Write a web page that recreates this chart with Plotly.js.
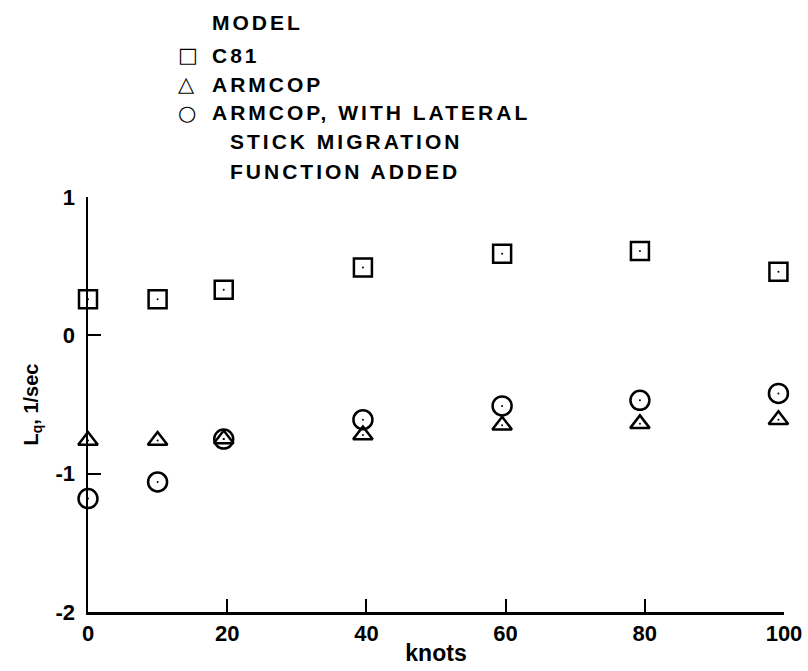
<!DOCTYPE html>
<html>
<head>
<meta charset="utf-8">
<script src="https://cdn.plot.ly/plotly-3.0.1.min.js"></script>
<style>
  html, body { margin: 0; padding: 0; background: #ffffff; }
  #chart { width: 808px; height: 671px; }
  #chart .annotation-text { letter-spacing: 3px; }
</style>
</head>
<body>
<div id="chart"></div>
<script>
// ---- data ----
const knots = [0, 10, 19.5, 39.5, 59.5, 79.3, 99.2];
const lqC81 = [0.26, 0.26, 0.33, 0.49, 0.59, 0.61, 0.46];
const lqArmcop = [-0.76, -0.76, -0.75, -0.72, -0.65, -0.64, -0.61];
const lqArmcopMigration = [-1.18, -1.06, -0.75, -0.61, -0.51, -0.47, -0.42];

const xTickVals = [0, 20, 40, 60, 80, 100];
const xTickText = ['0', '20', '40', '60', '80', '100'];
const yTickVals = [-2, -1, 0, 1];
const yTickText = ['-2', '-1', '0', '1'];

const legendTitle = 'MODEL';
const seriesNames = ['C81', 'ARMCOP', 'ARMCOP, WITH LATERAL'];
const seriesNameExtra = ['STICK MIGRATION', 'FUNCTION ADDED'];
const legendGlyphs = ['\u25A1', '\u25B3', '\u25CB'];

const FONT = 'Liberation Sans, Arial, Helvetica, sans-serif';

function markerTrace(y, symbol, size, name) {
  return {
    x: knots, y: y, name: name, type: 'scatter', mode: 'markers',
    cliponaxis: false, showlegend: false,
    marker: { symbol: symbol, size: size, color: '#000000', line: { color: '#000000', width: 2.5 } }
  };
}
function dotTrace(y) {
  return {
    x: knots, y: y, type: 'scatter', mode: 'markers', cliponaxis: false,
    showlegend: false, hoverinfo: 'skip',
    marker: { symbol: 'circle', size: 2, color: '#000000' }
  };
}

const traces = [
  markerTrace(lqC81, 'square-open', 18, seriesNames[0]),
  markerTrace(lqArmcop, 'triangle-up-open', 17, seriesNames[1]),
  markerTrace(lqArmcopMigration, 'circle-open', 19, seriesNames[2]),
  dotTrace(lqC81), dotTrace(lqArmcop), dotTrace(lqArmcopMigration)
];

// pixel helpers for the legend annotations (plot area: x 88..784, y 197..612)
const L = 88, R = 784, T = 197, B = 612;
const px = v => (v - L) / (R - L);
const py = v => (B - v) / (B - T);

const legendFont = { family: FONT, size: 21, weight: 'bold', color: '#000000' };
const annotations = [];
function legendText(x, y, text) {
  annotations.push({ xref: 'paper', yref: 'paper', x: px(x), y: py(y), xanchor: 'left', yanchor: 'middle', align: 'left', borderpad: 0, showarrow: false, text: text, font: legendFont });
}
legendText(211, 22, legendTitle);
const rowsY = [55, 84, 113];
for (let i = 0; i < 3; i++) {
  annotations.push({ xref: 'paper', yref: 'paper', x: px(177), y: py(rowsY[i]), xanchor: 'left', yanchor: 'middle', align: 'left', borderpad: 0, showarrow: false, text: legendGlyphs[i], font: { family: 'DejaVu Sans, sans-serif', size: 21, color: '#000000' } });
  legendText(211, rowsY[i], seriesNames[i]);
}
legendText(229, 142, seriesNameExtra[0]);
legendText(229, 171, seriesNameExtra[1]);

const layout = {
  width: 808, height: 671,
  paper_bgcolor: '#ffffff', plot_bgcolor: '#ffffff',
  margin: { l: L, r: 808 - R, t: T, b: 671 - B, pad: 0 },
  showlegend: false,
  font: { family: FONT, color: '#000000' },
  xaxis: {
    range: [0, 100], tickvals: xTickVals, ticktext: xTickText,
    showgrid: false, zeroline: false, showline: true, linecolor: '#000000', linewidth: 2.5,
    ticks: 'inside', ticklen: 13, tickwidth: 2, tickcolor: '#000000',
    tickfont: { family: FONT, size: 22, weight: 'bold', color: '#000000' },
    title: { text: 'knots', font: { family: FONT, size: 23, weight: 'bold', color: '#000000' }, standoff: 0 }
  },
  yaxis: {
    range: [-2, 1], tickvals: yTickVals, ticktext: yTickText,
    showgrid: false, zeroline: false, showline: true, linecolor: '#000000', linewidth: 2.5,
    ticks: 'inside', ticklen: 13, tickwidth: 2, tickcolor: '#000000',
    ticklabelstandoff: 6,
    tickfont: { family: FONT, size: 22, weight: 'bold', color: '#000000' },
    title: { text: 'L<sub>q</sub>, 1/sec', font: { family: FONT, size: 20, weight: 'bold', color: '#000000' }, standoff: 12 }
  },
  annotations: annotations
};

Plotly.newPlot('chart', traces, layout, { staticPlot: true, displayModeBar: false });
</script>
</body>
</html>
